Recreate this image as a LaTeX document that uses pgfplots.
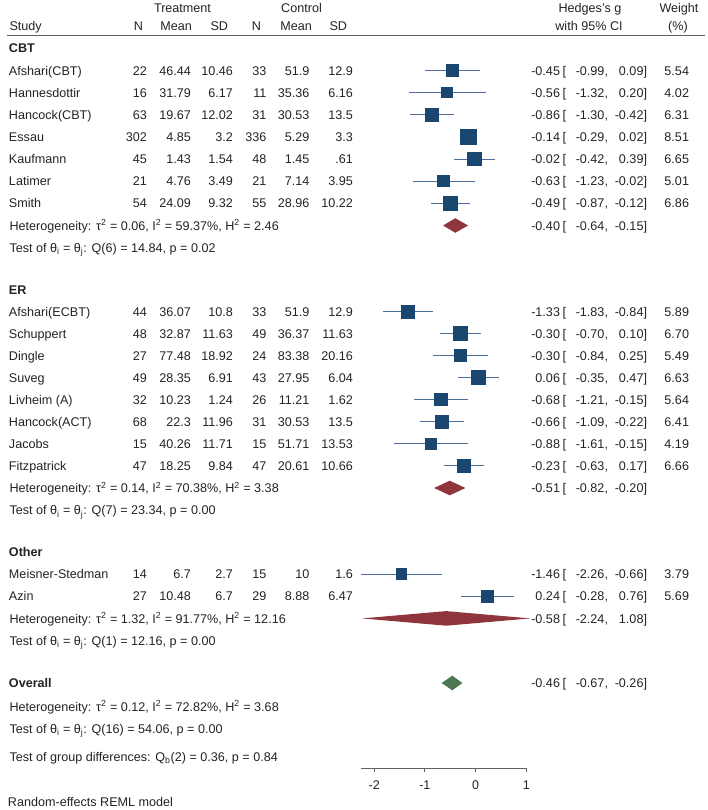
\documentclass[border=0pt]{standalone}
\usepackage{fontspec}
\setmainfont{Liberation Sans}
\usepackage{pgfplots}
\pgfplotsset{compat=1.18}
\usepackage{pgfplotstable}
\definecolor{navy}{RGB}{26,71,111}
\definecolor{ciline}{RGB}{75,110,155}
\definecolor{maroon}{RGB}{144,53,59}
\definecolor{dgreen}{RGB}{77,118,82}
\definecolor{txt}{RGB}{35,35,35}
\definecolor{rulec}{RGB}{95,95,95}

% y = -(row centre in px), Hedges's g, CI, weight (%)
\pgfplotstableread{
y g lo hi w
-70.5 -0.45 -0.99 0.09 5.54
-92.5 -0.56 -1.32 0.20 4.02
-114.7 -0.86 -1.30 -0.42 6.31
-136.8 -0.14 -0.29 0.02 8.51
-159.0 -0.02 -0.42 0.39 6.65
-181.0 -0.63 -1.23 -0.02 5.01
-203.3 -0.49 -0.87 -0.12 6.86
-311.7 -1.33 -1.83 -0.84 5.89
-333.5 -0.30 -0.70 0.10 6.70
-355.5 -0.30 -0.84 0.25 5.49
-377.5 0.06 -0.35 0.47 6.63
-399.5 -0.68 -1.21 -0.15 5.64
-421.7 -0.66 -1.09 -0.22 6.41
-443.8 -0.88 -1.61 -0.15 4.19
-465.8 -0.23 -0.63 0.17 6.66
-574.0 -1.46 -2.26 -0.66 3.79
-596.2 0.24 -0.28 0.76 5.69
}\studies

\newcommand{\fs}{\fontsize{12.6}{14}\selectfont}
\newcommand{\rt}[3]{\node[anchor=base east] at (#1,#2+4.6) {#3};}
\newcommand{\lt}[3]{\node[anchor=base west] at (#1,#2+4.6) {#3};}
\newcommand{\ct}[3]{\node[anchor=base] at (#1,#2+4.6) {#3};}
\newcommand{\srow}[8]{\lt{9}{#1}{#2}\rt{147}{#1}{#3}\rt{191}{#1}{#4}\rt{233}{#1}{#5}\rt{266.5}{#1}{#6}\rt{309.5}{#1}{#7}\rt{353}{#1}{#8}}
\newcommand{\ci}[5]{\rt{560}{#1}{#2}\lt{562.5}{#1}{[}\rt{608}{#1}{#3,}\rt{647}{#1}{#4]}\rt{689}{#1}{#5}}
\newcommand{\sq}{\textsuperscript{2}}
\newcommand{\het}[5]{\lt{9.5}{#1}{Heterogeneity: τ\sq\ = #2, I\sq\ = #3\%, H\sq\ = #4}}
\newcommand{\tst}[4]{\lt{9.5}{#1}{Test of θ\textsubscript{i} = θ\textsubscript{j}: Q(#2) = #3, p = #4}}

\begin{document}
\begin{tikzpicture}[font=\fs]
\begin{scope}[x=1pt,y=-1pt]
\useasboundingbox (0,0) rectangle (708,810);
\end{scope}

\begin{axis}[
  at={(361pt,-768pt)}, anchor=south west,
  scale only axis, width=165.3pt, height=768pt,
  xmin=-2.26, xmax=1, ymin=-768, ymax=0,
  axis x line*=bottom, axis y line=none,
  clip=false,
  xtick={-2,-1,0,1}, xticklabels={-2,-1,0,1},
  tick align=outside, major tick length=4pt,
  every tick/.style={rulec, line width=0.8pt},
  x axis line style={rulec, line width=0.8pt},
  xticklabel style={font=\fs, text=txt, inner sep=0pt, anchor=base, yshift=-17pt},
]
\addplot[
  only marks, mark=square*, color=navy,
  mark options={fill=navy, draw=navy, line width=0pt},
  scatter, scatter/use mapped color={draw=navy, fill=navy},
  visualization depends on={2.6*sqrt(\thisrow{w}) \as \msize},
  scatter/@pre marker code/.append style={/tikz/mark size=\msize},
  error bars/.cd, x dir=both, x explicit, error mark=none,
  error bar style={ciline, line width=0.85pt},
] table[x=g, y=y, x error plus expr=\thisrow{hi}-\thisrow{g}, x error minus expr=\thisrow{g}-\thisrow{lo}] {\studies};

\addplot[fill=maroon, draw=none] coordinates {(-0.64,-225.5) (-0.40,-218.2) (-0.15,-225.5) (-0.40,-232.8)} --cycle;
\addplot[fill=maroon, draw=none] coordinates {(-0.82,-488) (-0.51,-480.7) (-0.20,-488) (-0.51,-495.3)} --cycle;
\addplot[fill=maroon, draw=none] coordinates {(-2.24,-618.4) (-0.58,-611.1) (1.08,-618.4) (-0.58,-625.7)} --cycle;
\addplot[fill=dgreen, draw=none] coordinates {(-0.67,-683) (-0.46,-675.7) (-0.26,-683) (-0.46,-690.3)} --cycle;
\end{axis}

\begin{scope}[x=1pt,y=-1pt, every node/.style={inner sep=0pt, outer sep=0pt, text=txt}]
% header
\ct{182.5}{7.5}{Treatment}
\ct{301.5}{7.5}{Control}
\lt{9.5}{26}{Study}
\rt{143}{26}{N}\rt{192}{26}{Mean}\rt{228}{26}{SD}
\rt{261}{26}{N}\rt{312}{26}{Mean}\rt{347}{26}{SD}
\ct{590}{8}{Hedges's g}
\ct{589}{26}{with 95\% CI}
\ct{679}{8}{Weight}
\ct{678}{26}{(\%)}
\draw[rulec, line width=0.8pt] (7,35) -- (705,35);

% CBT
\lt{9}{48}{\bfseries CBT}
\srow{70.5}{Afshari(CBT)}{22}{46.44}{10.46}{33}{51.9}{12.9}
\srow{92.5}{Hannesdottir}{16}{31.79}{6.17}{11}{35.36}{6.16}
\srow{114.7}{Hancock(CBT)}{63}{19.67}{12.02}{31}{30.53}{13.5}
\srow{136.8}{Essau}{302}{4.85}{3.2}{336}{5.29}{3.3}
\srow{159}{Kaufmann}{45}{1.43}{1.54}{48}{1.45}{.61}
\srow{181}{Latimer}{21}{4.76}{3.49}{21}{7.14}{3.95}
\srow{203.3}{Smith}{54}{24.09}{9.32}{55}{28.96}{10.22}
\ci{70.5}{-0.45}{-0.99}{0.09}{5.54}
\ci{92.5}{-0.56}{-1.32}{0.20}{4.02}
\ci{114.7}{-0.86}{-1.30}{-0.42}{6.31}
\ci{136.8}{-0.14}{-0.29}{0.02}{8.51}
\ci{159}{-0.02}{-0.42}{0.39}{6.65}
\ci{181}{-0.63}{-1.23}{-0.02}{5.01}
\ci{203.3}{-0.49}{-0.87}{-0.12}{6.86}
\het{225.5}{0.06}{59.37}{2.46}{}
\ci{225.5}{-0.40}{-0.64}{-0.15}{}
\tst{247.7}{6}{14.84}{0.02}

% ER
\lt{9}{289.5}{\bfseries ER}
\srow{311.7}{Afshari(ECBT)}{44}{36.07}{10.8}{33}{51.9}{12.9}
\srow{333.5}{Schuppert}{48}{32.87}{11.63}{49}{36.37}{11.63}
\srow{355.5}{Dingle}{27}{77.48}{18.92}{24}{83.38}{20.16}
\srow{377.5}{Suveg}{49}{28.35}{6.91}{43}{27.95}{6.04}
\srow{399.5}{Livheim (A)}{32}{10.23}{1.24}{26}{11.21}{1.62}
\srow{421.7}{Hancock(ACT)}{68}{22.3}{11.96}{31}{30.53}{13.5}
\srow{443.8}{Jacobs}{15}{40.26}{11.71}{15}{51.71}{13.53}
\srow{465.8}{Fitzpatrick}{47}{18.25}{9.84}{47}{20.61}{10.66}
\ci{311.7}{-1.33}{-1.83}{-0.84}{5.89}
\ci{333.5}{-0.30}{-0.70}{0.10}{6.70}
\ci{355.5}{-0.30}{-0.84}{0.25}{5.49}
\ci{377.5}{0.06}{-0.35}{0.47}{6.63}
\ci{399.5}{-0.68}{-1.21}{-0.15}{5.64}
\ci{421.7}{-0.66}{-1.09}{-0.22}{6.41}
\ci{443.8}{-0.88}{-1.61}{-0.15}{4.19}
\ci{465.8}{-0.23}{-0.63}{0.17}{6.66}
\het{488}{0.14}{70.38}{3.38}{}
\ci{488}{-0.51}{-0.82}{-0.20}{}
\tst{510.3}{7}{23.34}{0.00}

% Other
\lt{9}{552}{\bfseries Other}
\srow{574}{Meisner-Stedman}{14}{6.7}{2.7}{15}{10}{1.6}
\srow{596.2}{Azin}{27}{10.48}{6.7}{29}{8.88}{6.47}
\ci{574}{-1.46}{-2.26}{-0.66}{3.79}
\ci{596.2}{0.24}{-0.28}{0.76}{5.69}
\het{618.4}{1.32}{91.77}{12.16}{}
\ci{618.4}{-0.58}{-2.24}{1.08}{}
\tst{640.5}{1}{12.16}{0.00}

% Overall
\lt{9}{683}{\bfseries Overall}
\ci{683}{-0.46}{-0.67}{-0.26}{}
\het{706.5}{0.12}{72.82}{3.68}{}
\tst{728.7}{16}{54.06}{0.00}
\lt{9.5}{756.5}{Test of group differences: Q\textsubscript{b}(2) = 0.36, p = 0.84}
\lt{8}{802}{Random-effects REML model}
\end{scope}
\end{tikzpicture}
\end{document}
